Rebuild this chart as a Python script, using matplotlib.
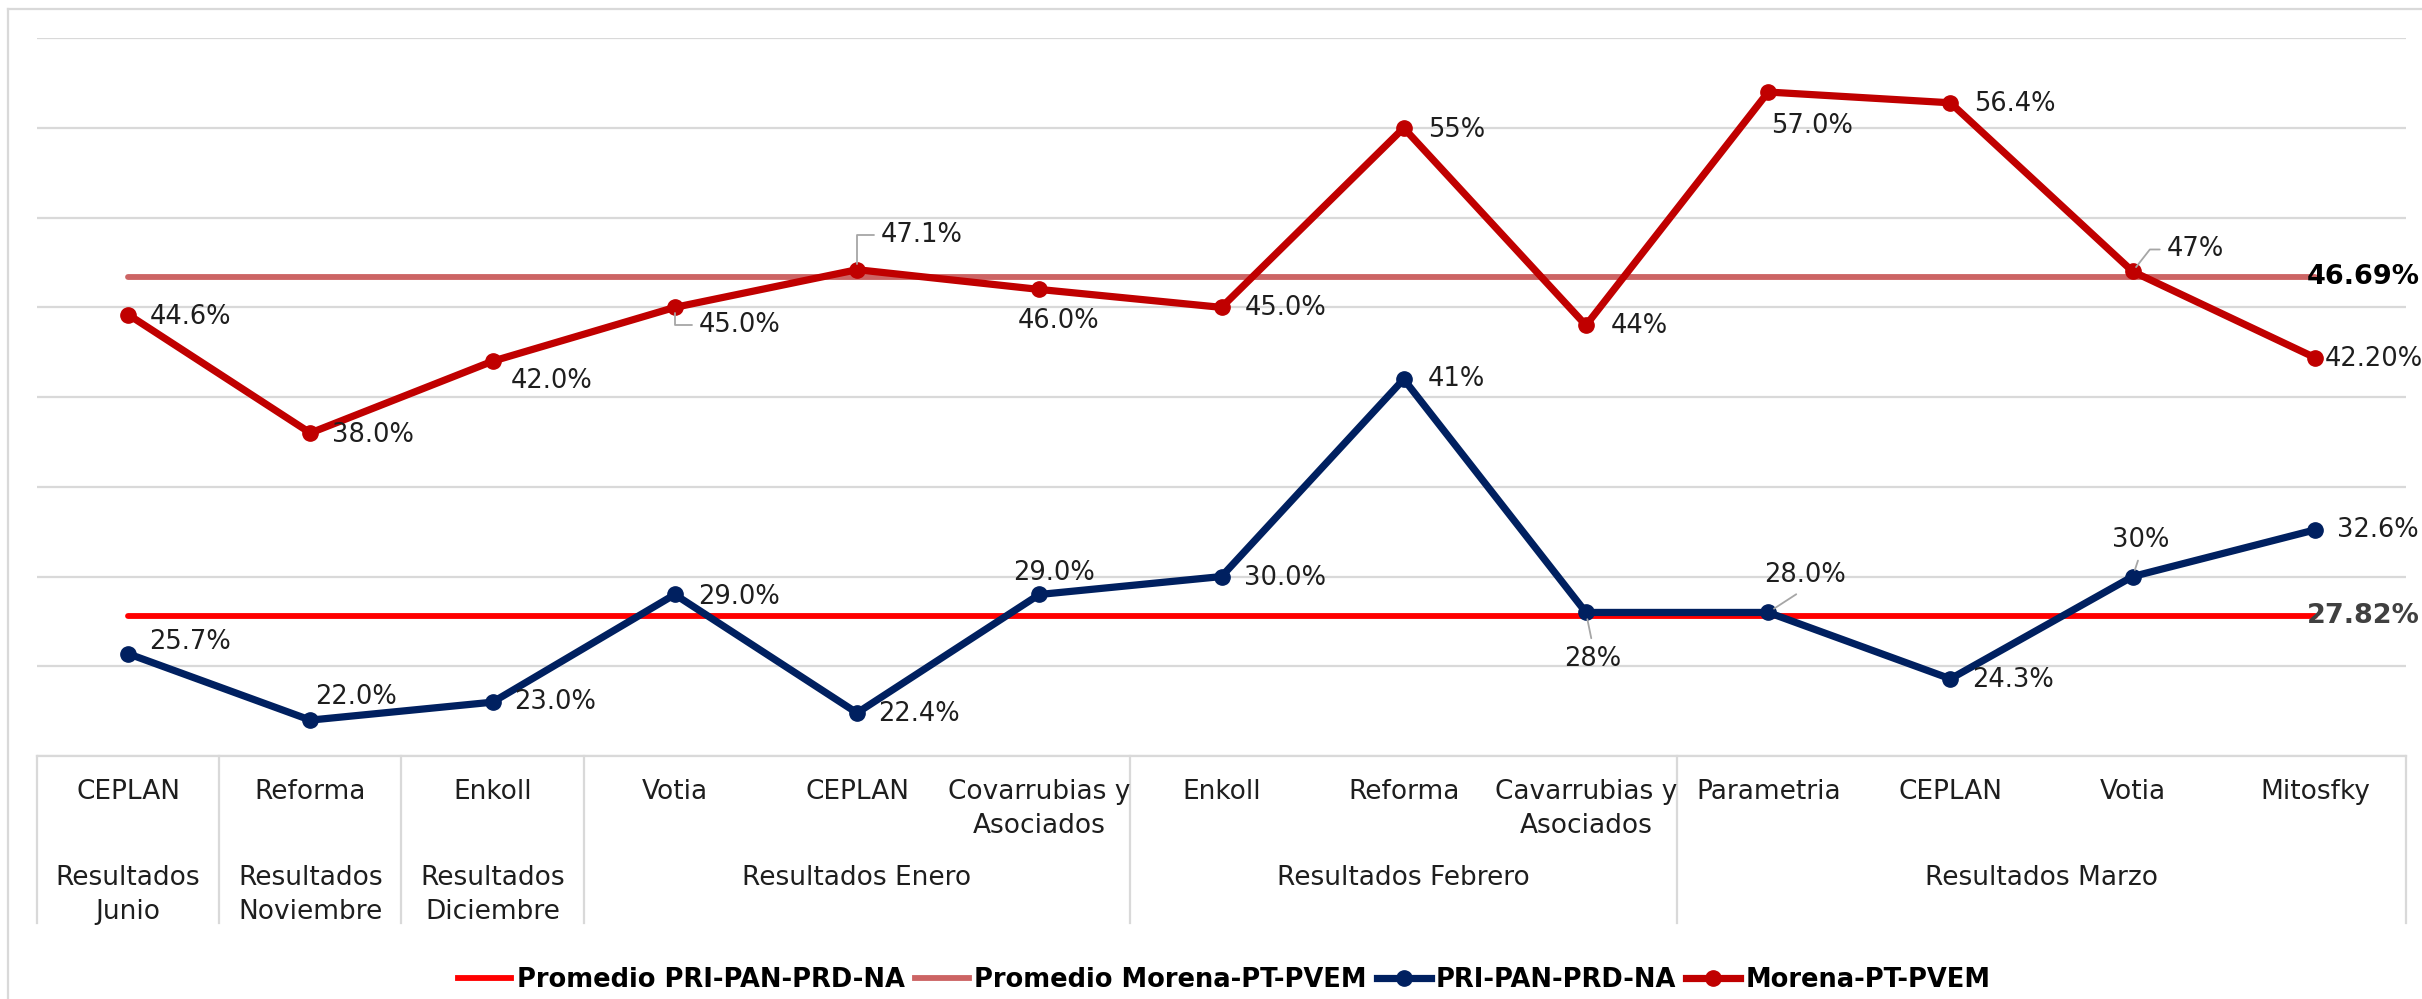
import matplotlib
matplotlib.use('Agg')
import matplotlib.pyplot as plt
from matplotlib.lines import Line2D
import matplotlib.transforms as mtrans

# ---------------- data ----------------
encuestadoras = ["CEPLAN", "Reforma", "Enkoll", "Votia", "CEPLAN",
                 "Covarrubias y\nAsociados", "Enkoll", "Reforma",
                 "Cavarrubias y\nAsociados", "Parametria", "CEPLAN", "Votia",
                 "Mitosfky"]
periodos = ["Resultados\nJunio", "Resultados\nNoviembre", "Resultados\nDiciembre",
            "Resultados Enero", "Resultados Febrero", "Resultados Marzo"]
periodo_tamanos = [1, 1, 1, 3, 3, 4]

morena = [44.6, 38.0, 42.0, 45.0, 47.1, 46.0, 45.0, 55.0, 44.0, 57.0, 56.4, 47.0, 42.2]
morena_labels = ["44.6%", "38.0%", "42.0%", "45.0%", "47.1%", "46.0%", "45.0%",
                 "55%", "44%", "57.0%", "56.4%", "47%", "42.20%"]
pri = [25.7, 22.0, 23.0, 29.0, 22.4, 29.0, 30.0, 41.0, 28.0, 28.0, 24.3, 30.0, 32.6]
pri_labels = ["25.7%", "22.0%", "23.0%", "29.0%", "22.4%", "29.0%", "30.0%",
              "41%", "28%", "28.0%", "24.3%", "30%", "32.6%"]
prom_pri = 27.82
prom_morena = 46.69
prom_pri_label = "27.82%"
prom_morena_label = "46.69%"

# ---------------- style ----------------
W, H = 2422, 999
C_MORENA = "#C00000"
C_PRI = "#002060"
C_PROM_PRI = "#FF0000"
C_PROM_MOR = "#CC6464"
C_GRID = "#D9D9D9"
C_TXT = "#1E1E1E"
C_LEAD = "#A6A6A6"
FS = 18.5
FS_CAT = 19
LW = 5.2
MS = 11
LW_PROM = 4.2

plt.rcParams['font.family'] = ['DejaVu Sans']

fig = plt.figure(figsize=(W / 100, H / 100), dpi=100)
ax_l, ax_r, ax_t, ax_b = 37, 2406, 38.2, 756
ax = fig.add_axes([ax_l / W, 1 - ax_b / H, (ax_r - ax_l) / W, (ax_b - ax_t) / H])

n = len(encuestadoras)
x = list(range(n))
ax.set_xlim(-0.5, n - 0.5)
ax.set_ylim(20, 60)
ax.set_yticks(range(20, 61, 5))
ax.yaxis.grid(True, color=C_GRID, lw=1.6)
ax.set_axisbelow(True)
ax.tick_params(length=0, labelleft=False, labelbottom=False)
for s in ['top', 'left', 'right']:
    ax.spines[s].set_visible(False)
ax.spines['bottom'].set_color(C_GRID)
ax.spines['bottom'].set_linewidth(1.6)

# average lines
ax.plot([x[0], x[-1]], [prom_pri, prom_pri], color=C_PROM_PRI, lw=LW_PROM,
        solid_capstyle='round', zorder=2)
ax.plot([x[0], x[-1]], [prom_morena, prom_morena], color=C_PROM_MOR, lw=LW_PROM,
        solid_capstyle='round', zorder=2)

# series
ax.plot(x, pri, color=C_PRI, lw=LW, marker='o', markersize=MS,
        solid_joinstyle='round', zorder=3)
ax.plot(x, morena, color=C_MORENA, lw=LW, marker='o', markersize=MS,
        solid_joinstyle='round', zorder=3)

# label placements: (dx px, dy px, ha, leader)
mor_place = [(22, -2, 'left', None), (22, -2, 'left', None), (18, -20, 'left', None),
             (24, -18, 'left', 'L'), (24, 35, 'left', 'L'), (19, -32, 'center', None),
             (23, -1, 'left', None), (24, -2, 'left', None), (25, -1, 'left', None),
             (3, -34, 'left', None), (24, -1, 'left', None), (34, 22, 'left', 'D'),
             (10, -1, 'left', None)]
pri_place = [(21, 12, 'left', None), (5, 23, 'left', None), (22, 0, 'left', None),
             (23, -3, 'left', None), (21, -1, 'left', None), (15, 21, 'center', None),
             (23, -1, 'left', None), (24, 0, 'left', None), (7, -47, 'center', 'down'),
             (37, 37, 'center', 'up'), (22, -1, 'left', None), (8, 37, 'center', 'up'),
             (22, 0, 'left', None)]


def put_labels(vals, labels, places):
    for xi, v, lab, (dx, dy, ha, lead) in zip(x, vals, labels, places):
        kw = dict(textcoords='offset pixels', ha=ha, va='center', fontsize=FS,
                  color=C_TXT, zorder=5, annotation_clip=False)
        if lead == 'L':
            kw['arrowprops'] = dict(arrowstyle='-', color=C_LEAD, lw=1.3,
                                    connectionstyle='angle,angleA=0,angleB=90,rad=0',
                                    relpos=(0, 0.5), shrinkA=3, shrinkB=4)
        elif lead == 'D':
            kw['arrowprops'] = dict(arrowstyle='-', color=C_LEAD, lw=1.3,
                                    connectionstyle='angle,angleA=0,angleB=52,rad=0',
                                    relpos=(0, 0.5), shrinkA=3, shrinkB=4)
        elif lead == 'down':
            kw['arrowprops'] = dict(arrowstyle='-', color=C_LEAD, lw=1.3,
                                    relpos=(0.5, 1), shrinkA=4, shrinkB=5)
        elif lead == 'up':
            kw['arrowprops'] = dict(arrowstyle='-', color=C_LEAD, lw=1.3,
                                    relpos=(0.5, 0), shrinkA=4, shrinkB=5)
        ax.annotate(lab, (xi, v), xytext=(dx, dy), **kw)


put_labels(morena, morena_labels, mor_place)
put_labels(pri, pri_labels, pri_place)

# average labels
ax.annotate(prom_morena_label, (x[-1], prom_morena), xytext=(-8, 0),
            textcoords='offset pixels', ha='left', va='center', fontsize=19.5,
            fontweight='bold', color='#000000', zorder=6, annotation_clip=False)
ax.annotate(prom_pri_label, (x[-1], prom_pri), xytext=(-8, 0),
            textcoords='offset pixels', ha='left', va='center', fontsize=19.5,
            fontweight='bold', color='#404040', zorder=6, annotation_clip=False)

# multi-level category axis
trans = mtrans.blended_transform_factory(ax.transData, fig.transFigure)
row1_top = 1 - 779 / H
row2_top = 1 - 865 / H
sep_top = 1 - ax_b / H
sep_bot = 1 - 923 / H
for xi, lab in zip(x, encuestadoras):
    ax.text(xi, row1_top, lab, transform=trans, ha='center', va='top',
            fontsize=FS_CAT, color=C_TXT, linespacing=1.38, multialignment='center')

start = 0
bounds = [-0.5]
for lab, size in zip(periodos, periodo_tamanos):
    center = start + (size - 1) / 2
    ax.text(center, row2_top, lab, transform=trans, ha='center', va='top',
            fontsize=FS_CAT, color=C_TXT, linespacing=1.38, multialignment='center')
    start += size
    bounds.append(start - 0.5)
for b in bounds:
    ax.add_line(Line2D([b, b], [sep_top, sep_bot], transform=trans, color=C_GRID,
                       lw=1.6, clip_on=False))

# chart outer border (left and top)
fig.add_artist(Line2D([8 / W, 8 / W], [0, 1 - 9 / H], transform=fig.transFigure,
                      color=C_GRID, lw=1.6))
fig.add_artist(Line2D([8 / W, 1], [1 - 9 / H, 1 - 9 / H], transform=fig.transFigure,
                      color=C_GRID, lw=1.6))

# legend
handles = [Line2D([], [], color=C_PROM_PRI, lw=LW_PROM),
           Line2D([], [], color=C_PROM_MOR, lw=LW_PROM),
           Line2D([], [], color=C_PRI, lw=LW, marker='o', markersize=MS),
           Line2D([], [], color=C_MORENA, lw=LW, marker='o', markersize=MS)]
names = ["Promedio PRI-PAN-PRD-NA", "Promedio Morena-PT-PVEM",
         "PRI-PAN-PRD-NA", "Morena-PT-PVEM"]
fig.legend(handles, names, loc='center', bbox_to_anchor=(1224 / W, 1 - 980 / H),
           ncol=4, frameon=False, prop={'weight': 'bold', 'size': 18.5},
           handlelength=2.1, handletextpad=0.2, columnspacing=0.4)

fig.savefig('out.png', dpi=100)
